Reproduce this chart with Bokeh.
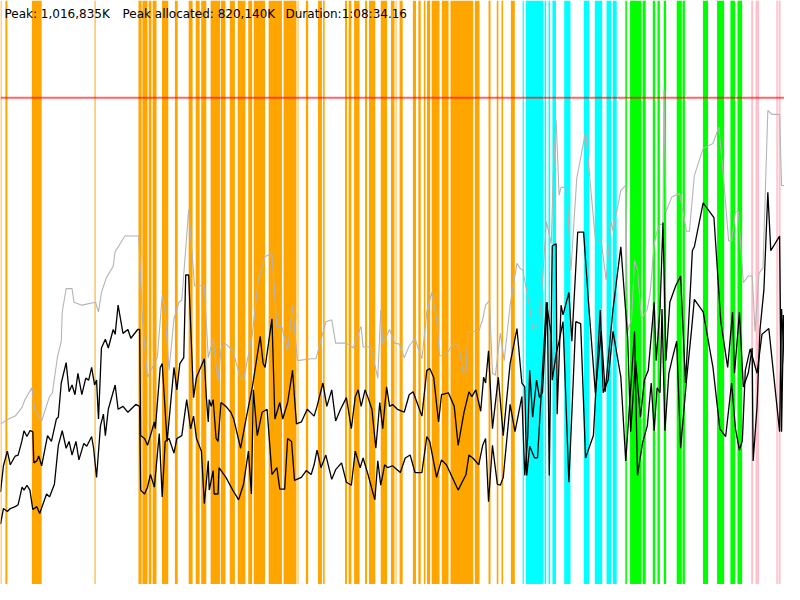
from bokeh.plotting import figure
from bokeh.models import Range1d, Span, Label
from bokeh.embed import file_html
from bokeh.resources import INLINE

PEAK_K = 1016835
PEAK_ALLOC_K = 820140
DURATION = "1:08:34.16"

# time: per-mille of run duration; memory: per-mille of peak
total_mem = [(0,330),(10,340),(18.75,346),(27.5,364),(31.25,380),(40,404),(43.75,360),(52.5,336),(62.5,386),(66.25,394),(72.5,466),(77.5,500),(78.75,560),(83.75,608),(91.25,608),(93.75,580),(103.75,574),(121.25,580),(125,560),(128.75,600),(135,630),(143.75,654),(146.25,684),(158.75,716),(176.25,716),(181.25,540),(187.5,426),(193.75,446),(200,466),(206.25,594),(210,560),(215,440),(221.25,546),(227.5,580),(231.25,584),(240,770),(247.5,614),(260,614),(265,466),(271.25,504),(277.5,416),(281.25,484),(286.25,496),(296.25,480),(306.25,424),(310,420),(321.25,514),(328.75,626),(337.5,674),(346.25,680),(352.5,530),(358.75,530),(366.25,480),(372.5,574),(378.75,460),(396.25,464),(402.5,464),(415,540),(422.5,544),(427.5,496),(441.25,496),(450,486),(458.75,526),(460,530),(462.5,488),(472.5,488),(481.25,424),(485,564),(487.5,494),(496.25,524),(502.5,496),(508.75,494),(515,466),(521.25,490),(528.75,506),(533.75,480),(537.5,464),(543.75,560),(550,600),(556.25,546),(560,470),(566.25,470),(578.75,496),(585,486),(590,436),(593.75,436),(596.25,520),(610,520),(615,544),(618.75,574),(623.75,584),(627.5,434),(631.25,430),(637.5,516),(642.5,460),(650,574),(658.75,660),(662.5,650),(666.25,646),(675,570),(678.75,526),(687.5,534),(696.25,746),(702.5,700),(705,840),(708.75,954),(712.5,800),(715,816),(722.5,816),(727.5,644),(735,834),(746.25,930),(758.75,710),(766.25,706),(772.5,626),(778.75,746),(781.25,726),(791.25,810),(797.5,820),(800,520),(805,546),(808.75,666),(812.5,646),(817.5,546),(825,566),(828.75,600),(833.75,700),(837.5,726),(841.25,740),(845,740),(846.25,1016),(848.75,766),(856.25,796),(866.25,804),(875,726),(878.75,726),(885,840),(896.25,896),(908.75,906),(916.25,940),(921.25,854),(928.75,706),(932.5,706),(937.5,766),(941.25,766),(947.5,620),(953.75,634),(958.75,634),(962.5,520),(967.5,640),(972.5,650),(978.75,974),(983.75,966),(993.75,966),(996.25,820),(1000,820)]

live_a = [(0,190),(3.75,244),(8.75,274),(12.5,246),(18.75,264),(22.5,266),(27.5,296),(30,316),(33.75,304),(37.5,316),(41.25,314),(42.5,250),(46.25,254),(48.75,264),(52.5,244),(60,306),(65,294),(71.25,340),(73.75,344),(77.5,414),(83.75,456),(87.5,396),(91.25,410),(95,390),(98.75,434),(103.75,390),(108.75,424),(112.5,420),(116.25,446),(120,410),(122.5,420),(125,340),(128.75,486),(133.75,504),(137.5,486),(143.75,524),(146.25,514),(150,574),(156.25,516),(162.5,524),(166.25,506),(175,524),(177.5,524),(178.75,306),(183.75,300),(187.5,286),(191.25,306),(196.25,334),(197.5,320),(203.75,446),(206.25,454),(212.5,294),(221.25,446),(225,400),(228.75,454),(233.75,466),(236.25,636),(240,636),(246.25,384),(250,426),(260,464),(262.5,386),(265,334),(266.25,380),(268.75,366),(271.25,380),(275,300),(277.5,294),(281.25,374),(287.5,366),(293.75,354),(297.5,340),(306.25,280),(312.5,334),(321.25,406),(331.25,510),(335,454),(337.5,446),(346.25,546),(350,340),(356.25,374),(360,340),(366.25,374),(372.5,440),(377.5,330),(383.75,334),(391.25,360),(400,346),(403.75,366),(411.25,414),(416.25,366),(422.5,400),(427.5,336),(433.75,360),(441.25,384),(447.5,320),(452.5,386),(456.25,400),(460,366),(465,400),(468.75,384),(473.75,360),(478.75,280),(483.75,374),(487.5,320),(492.5,406),(496.25,366),(500,370),(506.25,360),(515,354),(521.25,390),(526.25,396),(531.25,374),(537.5,346),(543.75,440),(547.5,444),(552.5,426),(558.75,334),(562.5,390),(571.25,394),(578.75,366),(583.75,286),(591.25,354),(597.5,396),(601.25,386),(606.25,400),(612.5,356),(616.25,426),(618.75,414),(622.5,480),(627.5,320),(635,426),(641.25,306),(650,454),(658.75,526),(665,414),(668.75,406),(671.25,224),(675,284),(681.25,260),(685,260),(696.25,580),(702.5,514),(703.75,420),(708.75,474),(712.5,500),(717.5,540),(725,210),(733.75,540),(740,536),(746.25,260),(756.25,306),(765,564),(768.75,394),(775,420),(781.25,520),(791.25,426),(797.5,254),(808.75,520),(812.5,224),(818.75,290),(825,326),(830,414),(833.75,316),(837.5,404),(841.25,394),(843.75,566),(847.5,316),(852.5,434),(856.25,460),(862.5,500),(867.5,280),(875,420),(881.25,520),(885,586),(896.25,560),(908.75,446),(917.5,320),(925,304),(932.5,414),(937.5,320),(942.5,276),(946.25,296),(950,440),(956.25,484),(965,434),(971.25,514),(980,526),(993.75,314),(996.25,566),(1000,454)]

live_b = [(0,124),(3.75,156),(8.75,150),(12.5,156),(18.75,160),(22.5,164),(27.5,200),(30,194),(33.75,204),(37.5,194),(41.25,154),(46.25,160),(50,146),(58.75,186),(62.5,180),(68.75,206),(73.75,286),(78.75,316),(83.75,280),(87.5,294),(91.25,266),(96.25,294),(100,256),(106.25,290),(110,284),(116.25,304),(118.75,280),(122.5,220),(127.5,326),(131.25,350),(133.75,306),(137.5,360),(146.25,410),(150,360),(156.25,366),(162.5,354),(172.5,370),(177.5,366),(178.75,194),(183.75,186),(187.5,200),(191.25,226),(196.25,200),(202.5,310),(206.25,180),(210,294),(215,300),(221.25,270),(225,300),(231.25,306),(237.5,380),(242.5,320),(246.25,346),(250,300),(256.25,274),(260,166),(265,254),(266.25,194),(271.25,234),(272.5,186),(277.5,186),(278.75,240),(287.5,220),(296.25,194),(303.75,174),(310,206),(316.25,274),(320,186),(322.5,400),(327.5,306),(333.75,354),(340,360),(346.25,226),(352.5,240),(356.25,196),(362.5,196),(366.25,300),(371.25,294),(375,214),(383.75,220),(390,234),(396.25,226),(400,246),(403.75,276),(408.75,240),(415,266),(422.5,216),(427.5,236),(435,250),(441.25,210),(447.5,204),(452.5,274),(458.75,240),(462.5,260),(468.75,226),(477.5,174),(481.25,254),(485,204),(490,246),(493.75,240),(500,244),(510,230),(516.25,260),(522.5,266),(528.75,230),(537.5,230),(543.75,304),(547.5,294),(556.25,220),(562.5,256),(568.75,246),(583.75,194),(593.75,226),(597.5,266),(602.5,260),(610,246),(615,286),(618.75,300),(622.5,170),(627.5,286),(633.75,206),(637.5,204),(641.25,220),(650,370),(656.25,314),(665,386),(668.75,224),(672.5,304),(675,440),(678.75,344),(683.75,420),(687.5,384),(691.25,394),(697.5,580),(700,224),(703.75,696),(708.75,700),(710,350),(715,574),(717.5,554),(725,600),(728.75,500),(736.25,724),(743.75,724),(750,580),(758.75,394),(766.25,520),(771.25,396),(781.25,566),(791.25,694),(800,506),(803.75,314),(810,460),(816.25,344),(821.25,420),(826.25,440),(833.75,580),(836.25,460),(841.25,566),(845,744),(848.75,460),(853.75,580),(861.25,614),(867.5,634),(873.75,414),(882.5,686),(885,694),(896.25,784),(910,754),(918.75,540),(927.5,446),(933.75,560),(936.25,434),(942.5,560),(947.5,406),(953.75,434),(958.75,486),(960,254),(965,366),(968.75,524),(973.75,606),(978.75,806),(982.5,686),(993.75,716),(996.25,314),(998.75,554)]

# phase bands: (start, end) in per-mille of run duration
orange_bands = [(0,1.25),(6.25,8.75),(40,52.5),(120,121.25),(176,180),(181,187.5),(189,192.5),(194,199),(206,214),(222.5,226),(240,245),(249,254),(256,262.5),(268,280),(281,287),(292.5,299),(302.5,312.5),(316,321),(323,337.5),(342,359),(361,377.5),(379,380),(389.5,392.5),(405,410),(411.5,413.5),(439.5,442),(444,447.5),(451,458),(465,467.5),(470,478),(485,493),(498,502.5),(504,505),(509,513),(526,530),(533,536),(540,542),(544,548),(550,560),(563,571.5),(574,603),(605,611),(622.5,625),(633,635),(639,641),(651,656)]
cyan_bands = [(666,667.5),(670,692.5),(694,696),(699,701),(704,708.5),(719,727),(744,751),(758,767.5),(773,779),(781,786)]
green_bands = [(797,799),(803,817.5),(819,823),(832,835),(838,841),(846,849),(862.5,869),(870,873),(896,902.5),(914,923),(931,937),(940,946)]
pink_bands = [(957.5,960),(963,967.5),(989.5,991.5),(992.5,995)]

PEAK_LEVEL = 1000

p = figure(width=784, height=584, output_backend="svg", toolbar_location=None,
           x_range=Range1d(0, 1000), y_range=Range1d(0, 1200),
           x_axis_location=None, y_axis_location=None, min_border=0)
p.grid.visible = False
p.outline_line_color = None
p.background_fill_color = "white"
p.border_fill_color = "white"

for bands, col in [(orange_bands, "#ffa500"), (cyan_bands, "#00ffff"),
                   (green_bands, "#00ff00"), (pink_bands, "#ffc0cb")]:
    p.quad(left=[b[0] for b in bands], right=[b[1] for b in bands],
           bottom=0, top=1200, fill_color=col, line_color=None)

p.line([d[0] for d in total_mem], [d[1] for d in total_mem], line_color="#b4b4b4", line_width=1.1)
p.line([d[0] for d in live_a], [d[1] for d in live_a], line_color="black", line_width=1.3)
p.line([d[0] for d in live_b], [d[1] for d in live_b], line_color="black", line_width=1.3)

p.add_layout(Span(location=PEAK_LEVEL, dimension="width", line_color="red",
                  line_alpha=0.6, line_width=2))

texts = [f"Peak: {PEAK_K:,}K", f"Peak allocated: {PEAK_ALLOC_K:,}K", f"Duration:{DURATION}"]
xs = [4, 122, 285]
for t, x in zip(texts, xs):
    p.add_layout(Label(x=x, y=571, x_units="screen", y_units="screen", text=t,
                       text_font="DejaVu Sans", text_font_size="12px",
                       text_color="black", text_baseline="middle"))

open("out.html", "w").write(file_html(p, INLINE))
